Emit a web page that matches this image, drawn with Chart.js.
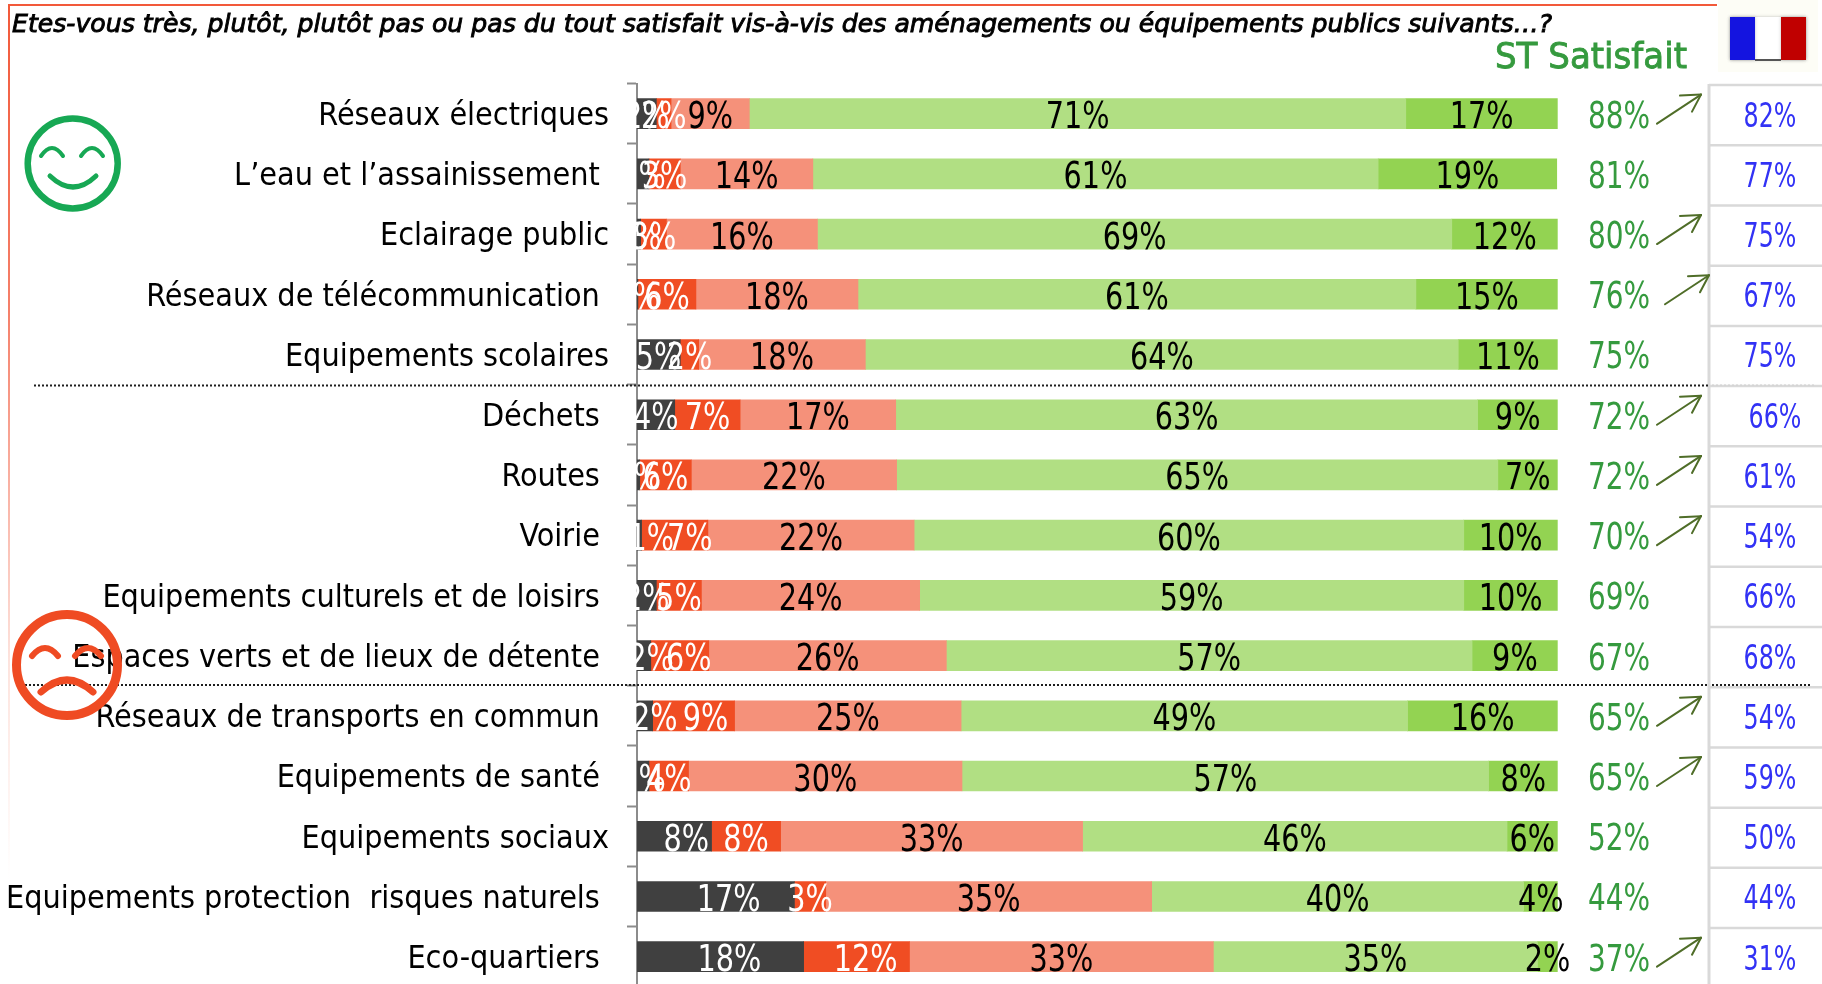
<!DOCTYPE html>
<html lang="fr">
<head>
<meta charset="utf-8">
<title>Satisfaction équipements publics</title>
<script src="https://cdn.jsdelivr.net/npm/chart.js@4"></script>
<style>
html,body{margin:0;padding:0;background:#fff;overflow:hidden}
#wrap{position:absolute;left:0;top:0;width:1822px;height:984px;overflow:hidden}
</style>
</head>
<body>
<div id="wrap"><canvas id="c" width="1822" height="1024"></canvas></div>
<script>
const categories = [
  "Réseaux électriques","L’eau et l’assainissement ","Eclairage public","Réseaux de télécommunication ",
  "Equipements scolaires","Déchets ","Routes ","Voirie ","Equipements culturels et de loisirs ",
  "Espaces verts et de lieux de détente ","Réseaux de transports en commun ","Equipements de santé ",
  "Equipements sociaux","Equipements protection  risques naturels ","Eco-quartiers "
];
const pasDuTout   = [2.1,1.3,0.4,0.1,4.7,4.1,0.3,0.5,2.1,1.5,1.7,1.3,8.1,17.1,18.1];
const plutotPasFort = [1.6,3.4,2.8,6.3,2.0,7.1,5.6,7.2,4.9,6.3,8.9,4.3,7.5,3.4,11.5];
const plutotPas   = [8.5,14.4,16.4,17.6,18.1,16.9,22.3,22.4,23.7,25.8,24.6,29.7,32.8,35.4,33.0];
const plutot      = [71.3,61.4,68.9,60.6,64.4,63.2,65.3,59.7,59.1,57.1,48.5,57.2,46.1,40.4,35.2];
const tres        = [16.5,19.4,11.5,15.4,10.8,8.7,6.5,10.2,10.2,9.3,16.3,7.5,5.5,3.7,2.2];
const stSatisfait = [88,81,80,76,75,72,72,70,69,67,65,65,52,44,37];
const france      = [82,77,75,67,75,66,61,54,66,68,54,59,50,44,31];
const hausse      = [1,0,1,1,0,1,1,1,0,0,1,1,0,0,1];
const seriesNames = ["Pas du tout satisfait","Plutôt pas (fort)","Plutôt pas satisfait","Plutôt satisfait","Très satisfait"];
const seriesData  = [pasDuTout,plutotPasFort,plutotPas,plutot,tres];
const seriesColors= ["#404040","#f04d23","#f5917a","#b1df83","#93d352"];
const labelColors = ["#ffffff","#ffffff","#000000","#000000","#000000"];

const FONT = "'DejaVu Sans Condensed','DejaVu Sans',sans-serif";
// small nudges of in-bar labels seen in the picture: "row,series" -> px
const nudge = {"7,0":12,"7,1":15,"9,0":7,"9,1":9,"10,0":10,"10,1":12,"12,0":12,"13,0":13,"14,0":9,"14,1":9};

function txt(ctx,s,x,y,font,color,sx,align){
  ctx.save();
  ctx.font=font; ctx.fillStyle=color; ctx.textBaseline="alphabetic"; ctx.textAlign=align||"center";
  ctx.translate(x,y); ctx.scale(sx,1); ctx.fillText(s,0,0);
  ctx.restore();
}
function fit(ctx,s,x,y,font,color,w,heavy){
  ctx.save(); ctx.font=font; const m=ctx.measureText(s).width; ctx.restore();
  const sx=w/m;
  txt(ctx,s,x,y,font,color,sx,"left");
  if(heavy){
    ctx.save(); ctx.font=font; ctx.strokeStyle=color; ctx.lineWidth=heavy; ctx.textAlign="left";
    ctx.translate(x,y); ctx.scale(sx,1); ctx.strokeText(s,0,0); ctx.restore();
  }
}
function line(ctx,x0,y0,x1,y1){ctx.beginPath();ctx.moveTo(x0,y0);ctx.lineTo(x1,y1);ctx.stroke();}

const decor = {
  id:"decor",
  beforeDatasetsDraw(chart){
    const ctx=chart.ctx, y=chart.scales.y;
    ctx.save();
    // frame
    ctx.fillStyle="#f2593a"; ctx.fillRect(8,4,1709,2);
    const g=ctx.createLinearGradient(0,4,0,880);
    g.addColorStop(0,"#f2593a"); g.addColorStop(0.35,"#f5806a"); g.addColorStop(0.75,"#fde3dd"); g.addColorStop(1,"#ffffff");
    ctx.fillStyle=g; ctx.fillRect(8,4,2,876);
    // reference table grid
    ctx.strokeStyle="#d9d9d9"; ctx.lineWidth=3;
    line(ctx,1709,84,1709,984);
    ctx.lineWidth=2.5;
    for(let i=0;i<=categories.length;i++){
      const yy=y.getPixelForValue(i)-y.height/categories.length/2+1.5;
      line(ctx,1709,yy,1822,yy);
    }
    ctx.restore();
  },
  afterDraw(chart){
    const ctx=chart.ctx, y=chart.scales.y, n=categories.length;
    ctx.save();
    // in-bar value labels
    seriesData.forEach((d,k)=>{
      const meta=chart.getDatasetMeta(k);
      d.forEach((v,i)=>{
        const b=meta.data[i];
        const cx=(b.x+b.base)/2+(nudge[i+","+k]||0);
        txt(ctx,Math.round(v)+"%",cx,b.y+14.5,"38px "+FONT,labelColors[k],0.84);
      });
    });
    // right columns
    for(let i=0;i<n;i++){
      const cy=y.getPixelForValue(i);
      txt(ctx,stSatisfait[i]+"%",1619,cy+14,"37px "+FONT,"#359a3e",0.84);
      const dx = i===5?5:0;
      txt(ctx,france[i]+"%",1770+dx,cy+13,"33px "+FONT,"#3232f5",0.8);
      if(hausse[i]){
        const ox=i===3?8:0;
        ctx.strokeStyle="#4f6d28"; ctx.lineWidth=2; ctx.lineCap="round";
        const tx=1701+ox,ty=cy-19;
        line(ctx,1657+ox,cy+10,tx,ty);
        line(ctx,tx,ty,tx-21,ty+1);
        line(ctx,tx,ty,tx-9,ty+17);
      }
    }
    // dotted separators
    ctx.lineCap="butt"; ctx.setLineDash([2,2]); ctx.lineWidth=2; ctx.strokeStyle="#1e1e1e";
    line(ctx,34,385.5,1709,385.5);
    line(ctx,25,685,1709,685);
    line(ctx,1712,685,1811,685);
    ctx.strokeStyle="#d0d0d0"; ctx.lineWidth=1;
    line(ctx,1712,385,1815,385);
    ctx.setLineDash([]);
    // header text
    fit(ctx,"Etes-vous très, plutôt, plutôt pas ou pas du tout satisfait vis-à-vis des aménagements ou équipements publics suivants…?",12,32,"italic 25px 'DejaVu Sans',sans-serif","#000000",1540,0.9);
    fit(ctx,"ST Satisfait",1495,68,"36px 'DejaVu Sans',sans-serif","#359a3e",192,0.9);
    // flag
    ctx.fillStyle="#fdfdf6"; ctx.fillRect(1718,0,100,72);
    ctx.shadowColor="rgba(120,120,120,.45)"; ctx.shadowBlur=3;
    ctx.fillStyle="#ffffff"; ctx.fillRect(1730,17,76,43);
    ctx.fillStyle="#1414e0"; ctx.fillRect(1730,17,25,43);
    ctx.fillStyle="#c00000"; ctx.fillRect(1781,17,25,43);
    ctx.shadowBlur=0; ctx.fillStyle="#555"; ctx.fillRect(1755,59,26,2);
    // smiley
    ctx.lineCap="round";
    ctx.strokeStyle="#17a854"; ctx.lineWidth=6.5;
    ctx.beginPath(); ctx.arc(72.7,163.5,45,0,Math.PI*2); ctx.stroke();
    ctx.lineWidth=4;
    ctx.beginPath(); ctx.moveTo(41,156); ctx.quadraticCurveTo(52,140,63,156); ctx.stroke();
    ctx.beginPath(); ctx.moveTo(81,156); ctx.quadraticCurveTo(92,140,103,156); ctx.stroke();
    ctx.lineWidth=5;
    ctx.beginPath(); ctx.moveTo(50,176); ctx.quadraticCurveTo(73,198,96,176); ctx.stroke();
    // frowny
    ctx.strokeStyle="#ef4b23"; ctx.lineWidth=9;
    ctx.beginPath(); ctx.arc(67,665,50.5,0,Math.PI*2); ctx.stroke();
    ctx.lineWidth=6;
    ctx.beginPath(); ctx.moveTo(32,656); ctx.quadraticCurveTo(45,640,58,656); ctx.stroke();
    ctx.beginPath(); ctx.moveTo(75,656); ctx.quadraticCurveTo(88,640,101,656); ctx.stroke();
    ctx.lineWidth=7;
    ctx.beginPath(); ctx.moveTo(41,692); ctx.quadraticCurveTo(67,668,93,692); ctx.stroke();
    ctx.restore();
  }
};

new Chart(document.getElementById("c"),{
  type:"bar",
  data:{
    labels:categories,
    datasets:seriesData.map((d,k)=>({
      label:seriesNames[k],data:d,backgroundColor:seriesColors[k],
      borderWidth:0,barThickness:30,stack:"s"
    }))
  },
  options:{
    indexAxis:"y",responsive:false,animation:false,devicePixelRatio:1,
    layout:{autoPadding:false,padding:{top:83.5,bottom:36,left:0,right:264.3}},
    plugins:{legend:{display:false},title:{display:false},tooltip:{enabled:false}},
    scales:{
      x:{display:false,stacked:true,min:0,max:100},
      y:{
        stacked:true,
        afterFit(s){s.width=637;},
        border:{display:true,color:"#8c8c8c",width:2},
        grid:{display:true,offset:true,drawOnChartArea:false,drawTicks:true,tickLength:10,tickWidth:2,tickColor:"#8c8c8c"},
        ticks:{color:"#000000",font:{family:FONT,size:32},padding:18,labelOffset:3,crossAlign:"near",autoSkip:false,minRotation:0,maxRotation:0}
      }
    }
  },
  plugins:[decor]
});
</script>
</body>
</html>
